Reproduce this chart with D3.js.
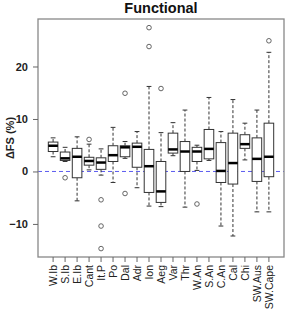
<!DOCTYPE html>
<html>
<head>
<meta charset="utf-8">
<script src="https://cdn.jsdelivr.net/npm/d3@7"></script>
<style>
body{margin:0;background:#fff;}
svg{display:block;font-family:"Liberation Sans",Arial,sans-serif;}
</style>
</head>
<body>
<svg id="chart" width="287" height="311"></svg>
<script>
const categories = ["W.Ib","S.Ib","E.Ib","Cant","It.P","Po","Dal","Adr","Ion","Aeg","Var","Thr","W.An","S.An","C.An","Cal","Chi","SW.Aus","SW.Cape"];
const whiskerLow  = [2.8, 1.9, -5.6, 0.3, -0.7, -2.1, 2.5, -3.1, -6.6, -6.7, 3.0, -6.8, 0.2, 2.1, -10.4, -12.3, 2.2, -7.7, -7.7];
const q1          = [3.8, 2.1, -1.2, 1.2, 0.4, 1.9, 2.8, 0.8, -4.0, -5.9, 3.5, 0.0, 1.9, 2.4, -2.1, -2.4, 4.4, -1.9, -1.0];
const medians     = [4.9, 2.5, 2.8, 2.0, 1.7, 3.1, 4.6, 4.7, 1.0, -3.8, 4.2, 3.8, 3.8, 4.3, 0.1, 1.6, 5.2, 2.4, 2.8];
const q3          = [5.6, 3.7, 4.4, 2.7, 2.6, 4.9, 4.9, 5.4, 4.2, 1.9, 7.3, 5.7, 4.6, 8.0, 5.5, 7.3, 7.0, 6.4, 9.2];
const whiskerHigh = [6.4, 4.6, 6.6, 5.2, 4.3, 8.4, 5.7, 7.6, 16.2, 7.4, 9.3, 11.7, 5.0, 14.1, 7.6, 13.7, 9.2, 11.7, 22.7];
const outliers    = [[], [-1.2], [], [6.1], [-5.4, -10.4, -14.7], [], [14.9, -4.2], [], [23.8, 27.4], [15.8], [], [], [-6.2], [], [], [], [], [], [24.9]];
const yTicks = [-10, 0, 10, 20];
const titleText = "Functional";
const yLabel = "ΔFS (%)";

const svg = d3.select("#chart");
const L = 38, R = 284, T = 19, B = 257;

const step = (R - L) / (categories.length + 1.52);
const x = d3.scaleBand().domain(categories)
  .range([L + 0.76 * step, R - 0.76 * step])
  .paddingInner(0.2).paddingOuter(0.1);
const y = d3.scaleLinear().domain([-16.3, 29.05]).range([B, T]);

const data = categories.map((c, i) => ({
  c, lo: whiskerLow[i], q1: q1[i], med: medians[i], q3: q3[i], hi: whiskerHigh[i], out: outliers[i]
}));

// zero reference line
svg.append("line")
  .attr("x1", L).attr("x2", R)
  .attr("y1", y(0)).attr("y2", y(0))
  .attr("stroke", "#5a5af0").attr("stroke-width", 1)
  .attr("stroke-dasharray", "4,3");

const g = svg.append("g");
const bw = x.bandwidth();
const cap = bw / 2;

data.forEach(d => {
  const cx = x(d.c) + bw / 2;
  const gg = g.append("g");
  [[d.q3, d.hi], [d.q1, d.lo]].forEach(([a, b]) => {
    if (a !== b) {
      gg.append("line").attr("x1", cx).attr("x2", cx)
        .attr("y1", y(a)).attr("y2", y(b))
        .attr("stroke", "#333").attr("stroke-width", 1)
        .attr("stroke-dasharray", "3,2");
    }
    gg.append("line").attr("x1", cx - cap / 2).attr("x2", cx + cap / 2)
      .attr("y1", y(b)).attr("y2", y(b))
      .attr("stroke", "#333").attr("stroke-width", 1);
  });
  gg.append("rect")
    .attr("x", x(d.c)).attr("width", bw)
    .attr("y", y(d.q3)).attr("height", y(d.q1) - y(d.q3))
    .attr("fill", "#fff").attr("stroke", "#333").attr("stroke-width", 1);
  gg.append("line").attr("x1", x(d.c)).attr("x2", x(d.c) + bw)
    .attr("y1", y(d.med)).attr("y2", y(d.med))
    .attr("stroke", "#000").attr("stroke-width", 2.5);
  d.out.forEach(o => {
    gg.append("circle").attr("cx", cx).attr("cy", y(o)).attr("r", 2.3)
      .attr("fill", "none").attr("stroke", "#555").attr("stroke-width", 0.9);
  });
});

// frame
svg.append("rect").attr("x", L).attr("y", T)
  .attr("width", R - L).attr("height", B - T)
  .attr("fill", "none").attr("stroke", "#888").attr("stroke-width", 1.3);

// y axis
const yAxis = svg.append("g").attr("transform", `translate(${L},0)`)
  .call(d3.axisLeft(y).tickValues(yTicks).tickSize(5).tickPadding(5).tickFormat(d3.format("d")));
yAxis.select(".domain").remove();
yAxis.selectAll("line").attr("stroke", "#666");
yAxis.selectAll("text").attr("font-size", 11).attr("font-weight", "bold")
  .attr("fill", "#222").attr("font-family", "Liberation Sans, Arial, sans-serif");

// x axis
const xAxis = svg.append("g").attr("transform", `translate(0,${B})`)
  .call(d3.axisBottom(x).tickSize(5).tickPadding(2));
xAxis.select(".domain").remove();
xAxis.selectAll("line").attr("stroke", "#666");
xAxis.selectAll("text")
  .attr("font-size", 10.5).attr("fill", "#222")
  .attr("font-family", "Liberation Sans, Arial, sans-serif")
  .attr("transform", "rotate(-90)")
  .attr("text-anchor", "end")
  .attr("x", -8).attr("y", 0).attr("dy", "0.35em");

// title
svg.append("text").attr("x", (L + R) / 2).attr("y", 13)
  .attr("text-anchor", "middle").attr("font-size", 14.5).attr("font-weight", "bold")
  .attr("fill", "#111").text(titleText);

// y label
svg.append("text")
  .attr("transform", `translate(10,${(T + B) / 2}) rotate(-90)`)
  .attr("text-anchor", "middle").attr("dy", "0.35em")
  .attr("font-size", 11).attr("font-weight", "bold").attr("fill", "#222")
  .text(yLabel);
</script>
</body>
</html>
